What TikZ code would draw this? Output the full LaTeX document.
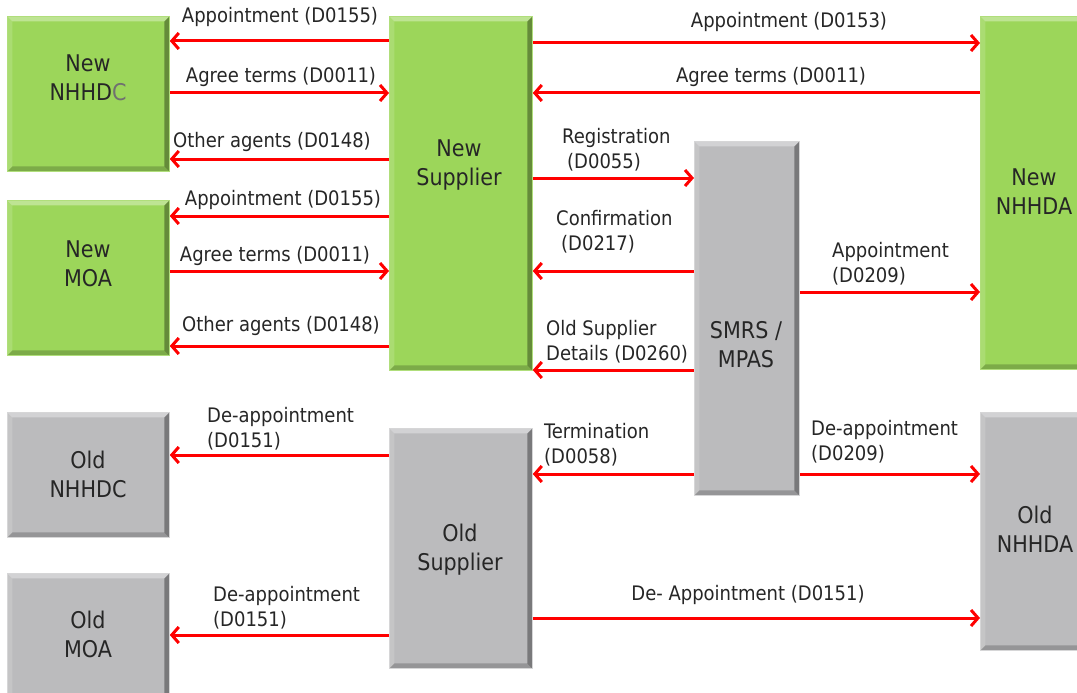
\documentclass[tikz,border=0pt]{standalone}
\usepackage{fontspec}
\setmainfont{DejaVu Sans Condensed}
\usetikzlibrary{arrows.meta}
\definecolor{NewGreen}{RGB}{156,214,90}
\definecolor{OldGrey}{RGB}{187,187,189}
\definecolor{MsgRed}{RGB}{255,0,0}
\definecolor{TextDark}{RGB}{38,38,38}
\definecolor{TextGrey}{RGB}{112,112,112}
\tikzstyle{Bevel}=[path picture={
  \fill[white,opacity=0.35] (path picture bounding box.north west) -- (path picture bounding box.north east)
    -- ([xshift=-5pt,yshift=-5pt]path picture bounding box.north east) -- ([xshift=5pt,yshift=-5pt]path picture bounding box.north west) -- cycle;
  \fill[white,opacity=0.15] (path picture bounding box.north west) -- ([xshift=5pt,yshift=-5pt]path picture bounding box.north west)
    -- ([xshift=5pt,yshift=5pt]path picture bounding box.south west) -- (path picture bounding box.south west) -- cycle;
  \fill[black,opacity=0.35] (path picture bounding box.north east) -- (path picture bounding box.south east)
    -- ([xshift=-5pt,yshift=5pt]path picture bounding box.south east) -- ([xshift=-5pt,yshift=-5pt]path picture bounding box.north east) -- cycle;
  \fill[black,opacity=0.2] (path picture bounding box.south west) -- (path picture bounding box.south east)
    -- ([xshift=-5pt,yshift=5pt]path picture bounding box.south east) -- ([xshift=5pt,yshift=5pt]path picture bounding box.south west) -- cycle;
}]
\tikzstyle{BoxNode}=[rectangle, anchor=north west, inner sep=0pt, line width=0.8pt, Bevel]
\tikzstyle{NewNode}=[BoxNode, fill=NewGreen, draw=NewGreen!80!white]
\tikzstyle{OldNode}=[BoxNode, fill=OldGrey, draw=OldGrey!60!white]
\tikzstyle{BoxText}=[align=center, anchor=base, inner sep=0pt, text=TextDark, font=\fontsize{23}{28.5}\selectfont]
\tikzstyle{MsgText}=[inner sep=0pt, text=TextDark, font=\fontsize{20}{24.5}\selectfont]
\tikzstyle{MsgLeft}=[MsgText, align=left, anchor=base west]
\tikzstyle{MsgEdge}=[->, MsgRed, line width=3pt]
\tikzset{>={Straight Barb[length=7pt,width=16pt]}}

\begin{document}
\begin{tikzpicture}[x=1pt,y=-1pt]
\useasboundingbox (0,0) rectangle (1077,693);

\node[NewNode, minimum width=162pt, minimum height=155pt](NewNHHDC) at (7,16) {};
\node[NewNode, minimum width=162pt, minimum height=155pt](NewMOA) at (7,200) {};
\node[NewNode, minimum width=143pt, minimum height=354pt](NewSupplier) at (389,16) {};
\node[OldNode, minimum width=105pt, minimum height=354pt](SMRS) at (694,141) {};
\node[NewNode, minimum width=110pt, minimum height=353pt](NewNHHDA) at (980,16) {};
\node[OldNode, minimum width=162pt, minimum height=125pt](OldNHHDC) at (7,412) {};
\node[OldNode, minimum width=162pt, minimum height=130pt](OldMOA) at (7,573) {};
\node[OldNode, minimum width=143pt, minimum height=240pt](OldSupplier) at (389,428) {};
\node[OldNode, minimum width=110pt, minimum height=238pt](OldNHHDA) at (980,412) {};

\node[BoxText](NewNHHDCText) at (88,100) {New\\NHHD\textcolor{TextGrey}{C}};
\node[BoxText](NewMOAText) at (88,286) {New\\MOA};
\node[BoxText](NewSupplierText) at (459,185) {New\\Supplier};
\node[BoxText](SMRSText) at (746,367) {SMRS /\\MPAS};
\node[BoxText](NewNHHDAText) at (1034,214) {New\\NHHDA};
\node[BoxText](OldNHHDCText) at (88,497) {Old\\NHHDC};
\node[BoxText](OldMOAText) at (88,657) {Old\\MOA};
\node[BoxText](OldSupplierText) at (460,570) {Old\\Supplier};
\node[BoxText](OldNHHDAText) at (1035,552) {Old\\NHHDA};

\draw[MsgEdge](NewSupplier.west |- 0,41) -- (NewNHHDC.east |- 0,41);
\draw[MsgEdge](NewNHHDC.east |- 0,93) -- (NewSupplier.west |- 0,93);
\draw[MsgEdge](NewSupplier.west |- 0,159) -- (NewNHHDC.east |- 0,159);
\draw[MsgEdge](NewSupplier.west |- 0,216) -- (NewMOA.east |- 0,216);
\draw[MsgEdge](NewMOA.east |- 0,271) -- (NewSupplier.west |- 0,271);
\draw[MsgEdge](NewSupplier.west |- 0,346) -- (NewMOA.east |- 0,346);
\draw[MsgEdge](NewSupplier.east |- 0,43) -- (NewNHHDA.west |- 0,43);
\draw[MsgEdge](NewNHHDA.west |- 0,93) -- (NewSupplier.east |- 0,93);
\draw[MsgEdge](NewSupplier.east |- 0,178) -- (SMRS.west |- 0,178);
\draw[MsgEdge](SMRS.west |- 0,271) -- (NewSupplier.east |- 0,271);
\draw[MsgEdge](SMRS.west |- 0,370) -- (NewSupplier.east |- 0,370);
\draw[MsgEdge](SMRS.east |- 0,292) -- (NewNHHDA.west |- 0,292);
\draw[MsgEdge](SMRS.west |- 0,474) -- (OldSupplier.east |- 0,474);
\draw[MsgEdge](SMRS.east |- 0,474) -- (OldNHHDA.west |- 0,474);
\draw[MsgEdge](OldSupplier.west |- 0,455) -- (OldNHHDC.east |- 0,455);
\draw[MsgEdge](OldSupplier.west |- 0,635) -- (OldMOA.east |- 0,635);
\draw[MsgEdge](OldSupplier.east |- 0,618) -- (OldNHHDA.west |- 0,618);

\node[MsgText, anchor=base](AppNHHDC) at (280,23) {Appointment (D0155)};
\node[MsgText, anchor=base](AgreeNHHDC) at (281,82) {Agree terms (D0011)};
\node[MsgText, anchor=base](OtherNHHDC) at (272,147) {Other agents (D0148)};
\node[MsgText, anchor=base](AppMOA) at (283,205) {Appointment (D0155)};
\node[MsgText, anchor=base](AgreeMOA) at (275,261) {Agree terms (D0011)};
\node[MsgText, anchor=base](OtherMOA) at (281,331) {Other agents (D0148)};
\node[MsgText, anchor=base](AppNHHDA) at (789,28) {Appointment (D0153)};
\node[MsgText, anchor=base](AgreeNHHDA) at (771,82) {Agree terms (D0011)};
\node[MsgLeft](Registration) at (562,168) {Registration\\\hspace*{5pt}(D0055)};
\node[MsgLeft](Confirmation) at (556,250) {Confirmation\\\hspace*{5pt}(D0217)};
\node[MsgLeft](OldDetails) at (546,360) {Old Supplier\\Details (D0260)};
\node[MsgLeft](AppSMRS) at (832,282) {Appointment\\(D0209)};
\node[MsgLeft](Termination) at (544,463) {Termination\\(D0058)};
\node[MsgLeft](DeAppSMRS) at (811,460) {De-appointment\\(D0209)};
\node[MsgLeft](DeAppNHHDC) at (207,447) {De-appointment\\(D0151)};
\node[MsgLeft](DeAppMOA) at (213,626) {De-appointment\\(D0151)};
\node[MsgText, anchor=base](DeAppNHHDA) at (748,600) {De- Appointment (D0151)};
\end{tikzpicture}
\end{document}
